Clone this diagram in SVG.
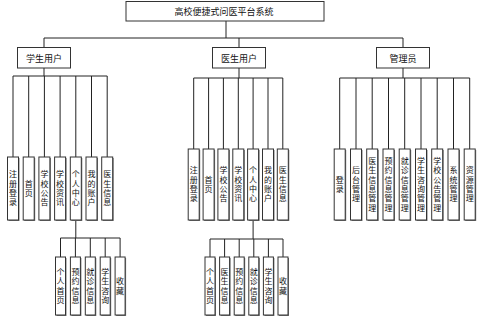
<svg xmlns="http://www.w3.org/2000/svg" width="499" height="326" viewBox="0 0 499 326">
<defs>
<style>
.box{fill:#fff;stroke:#333;stroke-width:1}
.sh{fill:#777}
.ln{stroke:#222;stroke-width:1;fill:none}
.t{font-family:"Noto Sans CJK SC","Noto Sans",sans-serif;font-size:9px;fill:#111;text-anchor:middle;dominant-baseline:central}
.v{font-family:"Noto Sans CJK SC","Noto Sans",sans-serif;font-size:8px;fill:#111;text-anchor:middle;writing-mode:vertical-rl;letter-spacing:1.3px}
</style>
</defs>
<rect width="499" height="326" fill="#fff"/>
<g id="connectors">
<path class="ln" d="M226 21V38M44 38H403M44 38V47M239 38V47M403 38V47"/>
<path class="ln" d="M44 68V76M13 76H107.2M13 76V157M28.7 76V157M44.4 76V157M60.1 76V157M75.8 76V157M91.5 76V157M107.2 76V157"/>
<path class="ln" d="M239 68V78M193.7 78H282.8M193.7 78V149M208.6 78V149M223.4 78V149M238.3 78V149M253.1 78V149M268 78V149M282.8 78V149"/>
<path class="ln" d="M403 68V78M339.7 78H469.7M339.7 78V149M356 78V149M372.2 78V149M388.5 78V149M404.7 78V149M421 78V149M437.2 78V149M453.5 78V149M469.7 78V149"/>
<path class="ln" d="M75.8 220V238M60.5 238H120.1M60.5 238V257M75.4 238V257M90.3 238V257M105.2 238V257M120.1 238V257"/>
<path class="ln" d="M253.1 220V239M210 239H283M210 239V257M224.6 239V257M239.2 239V257M253.8 239V257M268.4 239V257M283 239V257"/>
</g>
<g id="root"><rect class="box" x="126" y="1.5" width="198" height="19.5"/><text class="t" x="224" y="11.5">高校便捷式问医平台系统</text></g>
<g id="student"><rect class="box" x="17.5" y="47.5" width="53" height="20.5"/><text class="t" x="44" y="58">学生用户</text></g>
<g id="doctor"><rect class="box" x="212.5" y="47.5" width="53" height="20.5"/><text class="t" x="239" y="58">医生用户</text></g>
<g id="admin"><rect class="box" x="376.5" y="47.5" width="53" height="20.5"/><text class="t" x="403" y="58">管理员</text></g>

<g id="s1"><rect class="sh" x="8.5" y="158" width="11" height="63"/><rect class="box" x="7.5" y="157" width="11" height="63"/><text class="v" x="13" y="189">注册登录</text></g>
<g id="s2"><rect class="sh" x="24.2" y="158" width="11" height="63"/><rect class="box" x="23.2" y="157" width="11" height="63"/><text class="v" x="28.7" y="189">首页</text></g>
<g id="s3"><rect class="sh" x="39.9" y="158" width="11" height="63"/><rect class="box" x="38.9" y="157" width="11" height="63"/><text class="v" x="44.4" y="189">学校公告</text></g>
<g id="s4"><rect class="sh" x="55.6" y="158" width="11" height="63"/><rect class="box" x="54.6" y="157" width="11" height="63"/><text class="v" x="60.1" y="189">学校资讯</text></g>
<g id="s5"><rect class="sh" x="71.3" y="158" width="11" height="63"/><rect class="box" x="70.3" y="157" width="11" height="63"/><text class="v" x="75.8" y="189">个人中心</text></g>
<g id="s6"><rect class="sh" x="87" y="158" width="11" height="63"/><rect class="box" x="86" y="157" width="11" height="63"/><text class="v" x="91.5" y="189">我的账户</text></g>
<g id="s7"><rect class="sh" x="102.7" y="158" width="11" height="63"/><rect class="box" x="101.7" y="157" width="11" height="63"/><text class="v" x="107.2" y="189">医生信息</text></g>

<g id="d1"><rect class="sh" x="189.2" y="150" width="11" height="71"/><rect class="box" x="188.2" y="149" width="11" height="71"/><text class="v" x="193.7" y="185">注册登录</text></g>
<g id="d2"><rect class="sh" x="204.1" y="150" width="11" height="71"/><rect class="box" x="203.1" y="149" width="11" height="71"/><text class="v" x="208.6" y="185">首页</text></g>
<g id="d3"><rect class="sh" x="218.9" y="150" width="11" height="71"/><rect class="box" x="217.9" y="149" width="11" height="71"/><text class="v" x="223.4" y="185">学校公告</text></g>
<g id="d4"><rect class="sh" x="233.8" y="150" width="11" height="71"/><rect class="box" x="232.8" y="149" width="11" height="71"/><text class="v" x="238.3" y="185">学校资讯</text></g>
<g id="d5"><rect class="sh" x="248.6" y="150" width="11" height="71"/><rect class="box" x="247.6" y="149" width="11" height="71"/><text class="v" x="253.1" y="185">个人中心</text></g>
<g id="d6"><rect class="sh" x="263.5" y="150" width="11" height="71"/><rect class="box" x="262.5" y="149" width="11" height="71"/><text class="v" x="268" y="185">我的账户</text></g>
<g id="d7"><rect class="sh" x="278.3" y="150" width="11" height="71"/><rect class="box" x="277.3" y="149" width="11" height="71"/><text class="v" x="282.8" y="185">医生信息</text></g>

<g id="a1"><rect class="sh" x="335.2" y="150" width="11" height="71"/><rect class="box" x="334.2" y="149" width="11" height="71"/><text class="v" x="339.7" y="185">登录</text></g>
<g id="a2"><rect class="sh" x="351.5" y="150" width="11" height="71"/><rect class="box" x="350.5" y="149" width="11" height="71"/><text class="v" x="356" y="185">后台管理</text></g>
<g id="a3"><rect class="sh" x="367.7" y="150" width="11" height="71"/><rect class="box" x="366.7" y="149" width="11" height="71"/><text class="v" x="372.2" y="185">医生信息管理</text></g>
<g id="a4"><rect class="sh" x="384" y="150" width="11" height="71"/><rect class="box" x="383" y="149" width="11" height="71"/><text class="v" x="388.5" y="185">预约信息管理</text></g>
<g id="a5"><rect class="sh" x="400.2" y="150" width="11" height="71"/><rect class="box" x="399.2" y="149" width="11" height="71"/><text class="v" x="404.7" y="185">就诊信息管理</text></g>
<g id="a6"><rect class="sh" x="416.5" y="150" width="11" height="71"/><rect class="box" x="415.5" y="149" width="11" height="71"/><text class="v" x="421" y="185">学生咨询管理</text></g>
<g id="a7"><rect class="sh" x="432.7" y="150" width="11" height="71"/><rect class="box" x="431.7" y="149" width="11" height="71"/><text class="v" x="437.2" y="185">学校公告管理</text></g>
<g id="a8"><rect class="sh" x="449" y="150" width="11" height="71"/><rect class="box" x="448" y="149" width="11" height="71"/><text class="v" x="453.5" y="185">系统管理</text></g>
<g id="a9"><rect class="sh" x="465.2" y="150" width="11" height="71"/><rect class="box" x="464.2" y="149" width="11" height="71"/><text class="v" x="469.7" y="185">资源管理</text></g>

<g id="ss1"><rect class="sh" x="56.5" y="258" width="10" height="58"/><rect class="box" x="55.5" y="257" width="10" height="58"/><text class="v" x="60.5" y="286.5">个人首页</text></g>
<g id="ss2"><rect class="sh" x="71.4" y="258" width="10" height="58"/><rect class="box" x="70.4" y="257" width="10" height="58"/><text class="v" x="75.4" y="286.5">预约信息</text></g>
<g id="ss3"><rect class="sh" x="86.3" y="258" width="10" height="58"/><rect class="box" x="85.3" y="257" width="10" height="58"/><text class="v" x="90.3" y="286.5">就诊信息</text></g>
<g id="ss4"><rect class="sh" x="101.2" y="258" width="10" height="58"/><rect class="box" x="100.2" y="257" width="10" height="58"/><text class="v" x="105.2" y="286.5">学生咨询</text></g>
<g id="ss5"><rect class="sh" x="116.1" y="258" width="10" height="58"/><rect class="box" x="115.1" y="257" width="10" height="58"/><text class="v" x="120.1" y="286.5">收藏</text></g>

<g id="ds1"><rect class="sh" x="206" y="258" width="10" height="58"/><rect class="box" x="205" y="257" width="10" height="58"/><text class="v" x="210" y="286.5">个人首页</text></g>
<g id="ds2"><rect class="sh" x="220.6" y="258" width="10" height="58"/><rect class="box" x="219.6" y="257" width="10" height="58"/><text class="v" x="224.6" y="286.5">医生信息</text></g>
<g id="ds3"><rect class="sh" x="235.2" y="258" width="10" height="58"/><rect class="box" x="234.2" y="257" width="10" height="58"/><text class="v" x="239.2" y="286.5">预约信息</text></g>
<g id="ds4"><rect class="sh" x="249.8" y="258" width="10" height="58"/><rect class="box" x="248.8" y="257" width="10" height="58"/><text class="v" x="253.8" y="286.5">就诊信息</text></g>
<g id="ds5"><rect class="sh" x="264.4" y="258" width="10" height="58"/><rect class="box" x="263.4" y="257" width="10" height="58"/><text class="v" x="268.4" y="286.5">学生咨询</text></g>
<g id="ds6"><rect class="sh" x="279" y="258" width="10" height="58"/><rect class="box" x="278" y="257" width="10" height="58"/><text class="v" x="283" y="286.5">收藏</text></g>
</svg>
